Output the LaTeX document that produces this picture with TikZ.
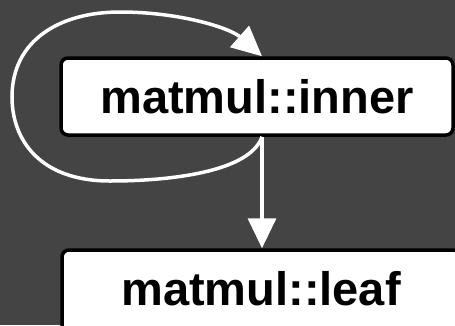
\documentclass[tikz,border=0pt]{standalone}
\usepackage{fontspec}
\setmainfont{Liberation Sans}
\usetikzlibrary{arrows.meta}
\definecolor{bgc}{HTML}{444444}
\begin{document}
\begin{tikzpicture}[x=1pt,y=1pt,
  box/.style={draw=black,fill=white,line width=3.5pt,rounded corners=7pt,
    inner sep=0pt,font=\fontsize{47}{50}\selectfont\bfseries},
  conn/.style={draw=white,line width=3.5pt,-{Triangle[length=30pt,width=28pt]}}]
\useasboundingbox (0,0) rectangle (455,-325);
\clip (0,0) rectangle (455,-325);
\fill[bgc] (0,0) rectangle (455,-325);
\node[box,minimum width=392pt,minimum height=77pt] (inner) at (257,-96.5) {matmul::inner};
\node[box,minimum width=398pt,minimum height=90pt,text depth=0pt] (leaf) at (261,-295) {\raisebox{13pt}{matmul::leaf}};
\coordinate (s) at ([xshift=5pt]inner.south);
\coordinate (e) at ([xshift=5pt]inner.north);
\draw[conn] (s) -- (s |- leaf.north);
\draw[conn] (s) .. controls (250,-172) and (170,-181) .. (110,-181)
  .. controls (40,-181) and (12,-140) .. (12,-97)
  .. controls (12,-40) and (60,-12) .. (120,-12)
  .. controls (180,-12) and (230,-28) .. (e);
\end{tikzpicture}
\end{document}
